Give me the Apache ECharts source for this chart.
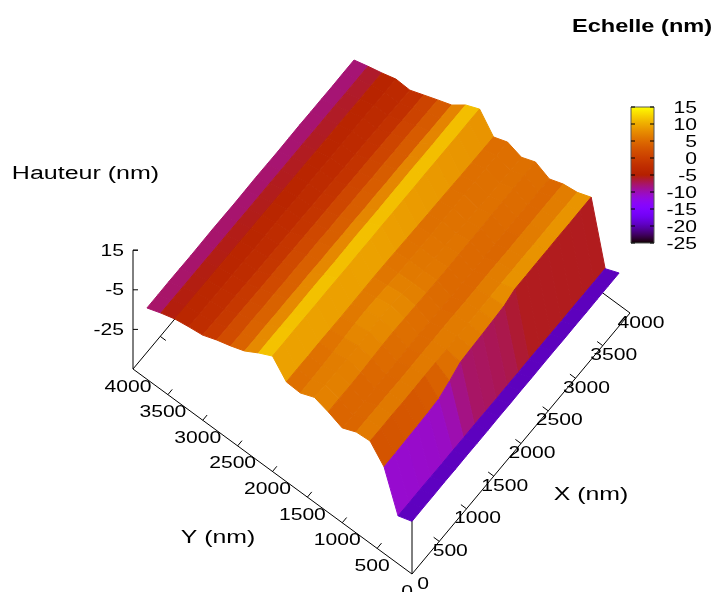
<!DOCTYPE html>
<html>
<head>
<meta charset="utf-8">
<style>html,body{margin:0;padding:0;background:#fff}#c{width:712px;height:592px}</style>
<script src="https://cdn.jsdelivr.net/npm/echarts@6/dist/echarts.min.js"></script>
</head>
<body>
<div id="c"></div>
<script>
// Grid nodes (nm)
const xNodes = [0,200,400,600,800,1000,1200,1400,1600,1800,2000,2200,2400,2600,2800,3000,3200,3400,3600,3800];
const yNodes = [0,200,400,600,800,1000,1200,1400,1600,1800,2000,2200,2400,2600,2800,3000,3200,3400,3600,3800];
// Height (nm) along X for each Y node
const zY0000 = [-18.4,-18.3,-18.3,-18.2,-18.3,-18.2,-18.3,-18.3,-18.2,-18.3,-18.2,-18.3,-18.2,-18.2,-18.3,-18.2,-18.3,-18.2,-18.2,-18.2];
const zY0200 = [-20.8,-20.9,-20.8,-20.9,-21.0,-20.9,-21.0,-20.9,-21.0,-21.1,-21.0,-21.1,-21.0,-21.1,-21.1,-21.2,-21.1,-21.2,-21.2,-21.2];
const zY0400 = [-1.3,-1.2,-1.0,-0.8,-0.5,0.0,2.5,5.5,6.0,6.4,6.9,7.5,9.5,9.5,9.6,9.6,9.7,9.6,9.7,9.7];
const zY0600 = [6.6,6.5,6.6,6.4,6.5,6.6,6.7,6.6,6.8,6.7,6.8,6.9,7.0,6.9,7.0,6.9,7.0,7.1,7.0,7.0];
const zY0800 = [6.0,6.1,5.9,6.0,5.8,5.9,6.0,5.9,6.1,6.0,5.9,6.0,6.1,6.0,5.9,6.0,6.0,6.1,6.0,6.0];
const zY1000 = [2.9,3.0,3.1,3.0,3.2,3.3,3.6,3.8,3.7,3.5,3.4,3.3,3.2,3.3,3.2,3.3,3.4,3.3,3.4,3.4];
const zY1200 = [5.8,5.9,5.8,6.0,6.4,6.8,7.0,6.8,6.6,6.4,6.3,6.2,6.3,6.4,6.3,6.5,6.6,6.7,6.8,6.8];
const zY1400 = [8.0,7.8,7.6,7.4,7.6,8.0,8.4,8.4,7.6,6.6,6.0,5.6,5.4,5.0,4.8,4.6,4.4,4.2,4.1,4.0];
const zY1600 = [5.0,5.2,5.4,5.8,6.4,7.0,7.2,7.0,6.6,6.2,6.0,6.0,6.0,6.2,6.2,6.4,6.4,6.5,6.5,6.5];
const zY1800 = [5.4,5.5,5.4,5.5,5.4,5.3,5.4,5.5,5.6,5.5,5.3,5.1,4.9,4.7,4.6,4.4,4.2,4.1,4.0,3.9];
const zY2000 = [13.3,13.2,13.3,13.2,13.1,13.2,13.1,13.0,13.1,13.0,13.1,13.0,13.0,12.9,13.0,12.9,12.9,12.8,12.9,12.8];
const zY2200 = [9.7,9.8,9.7,9.6,9.7,9.8,9.7,9.6,9.7,9.8,9.7,9.6,9.7,9.7,9.8,9.7,9.6,9.7,9.7,9.7];
const zY2400 = [5.5,5.4,5.5,5.3,5.4,5.2,5.3,5.1,5.2,5.0,5.1,4.9,5.0,4.8,4.9,4.7,4.8,4.6,4.6,4.5];
const zY2600 = [2.9,2.8,2.9,2.7,2.8,2.6,2.7,2.5,2.6,2.4,2.5,2.3,2.4,2.2,2.3,2.1,2.2,2.0,2.0,1.9];
const zY2800 = [0.7,0.6,0.6,0.5,0.4,0.3,0.3,0.2,0.1,0.0,0.0,-0.1,-0.2,-0.3,-0.3,-0.4,-0.5,-0.6,-0.7,-0.8];
const zY3000 = [-2.0,-2.1,-2.2,-2.2,-2.3,-2.4,-2.5,-2.5,-2.6,-2.7,-2.8,-2.8,-2.9,-3.0,-3.0,-3.1,-3.2,-3.3,-3.4,-3.5];
const zY3200 = [-3.0,-3.1,-3.0,-3.1,-3.0,-3.1,-3.2,-3.1,-3.0,-3.1,-3.2,-3.1,-3.0,-3.1,-3.2,-3.1,-3.0,-3.1,-3.1,-3.1];
const zY3400 = [-4.2,-4.3,-4.3,-4.4,-4.4,-4.5,-4.5,-4.6,-4.6,-4.7,-4.7,-4.8,-4.8,-4.9,-4.9,-5.0,-5.0,-5.1,-5.1,-5.2];
const zY3600 = [-6.4,-6.4,-6.5,-6.5,-6.5,-6.6,-6.6,-6.6,-6.7,-6.7,-6.7,-6.8,-6.8,-6.8,-6.9,-6.9,-6.9,-7.0,-7.0,-7.0];
const zY3800 = [-9.0,-9.0,-8.9,-9.0,-9.1,-9.0,-8.9,-9.0,-9.1,-9.0,-8.9,-9.0,-9.1,-9.0,-8.9,-9.0,-9.0,-9.1,-9.0,-9.0];
const zRows = [zY0000,zY0200,zY0400,zY0600,zY0800,zY1000,zY1200,zY1400,zY1600,zY1800,zY2000,zY2200,zY2400,zY2600,zY2800,zY3000,zY3200,zY3400,zY3600,zY3800];

// Ticks and labels
const xyTickValues = [0,500,1000,1500,2000,2500,3000,3500,4000];
const xyTickLabels = ['0','500','1000','1500','2000','2500','3000','3500','4000'];
const zTickValues = [15,-5,-25];
const zTickLabels = ['15','-5','-25'];
const cbTickValues = [15,10,5,0,-5,-10,-15,-20,-25];
const cbTickLabels = ['15','10','5','0','-5','-10','-15','-20','-25'];

// gnuplot view: screen position of the origin and axis vectors
const XYMAX = 4000, ZBASE = -45, ZTOP = 15;
function project(x, y, z) {
  return [
    412 + x * 218 / XYMAX - y * 279 / XYMAX,
    574 - x * 261 / XYMAX - y * 205 / XYMAX - (z - ZBASE) * 1.98
  ];
}
// gnuplot default palette (rgbformulae 7,5,15) on -25..15
function palette(z) {
  const t = Math.max(0, Math.min(1, (z + 25) / 40));
  const r = Math.sqrt(t), g = t * t * t, b = Math.max(0, Math.sin(2 * Math.PI * t));
  return 'rgb(' + Math.round(r * 255) + ',' + Math.round(g * 255) + ',' + Math.round(b * 255) + ')';
}

// Surface cells, far to near
const cells = [];
for (let i = xNodes.length - 2; i >= 0; i--) {
  for (let j = yNodes.length - 2; j >= 0; j--) cells.push([i, j]);
}
function renderCell(params, api) {
  const i = api.value(0), j = api.value(1);
  const corners = [[i, j], [i + 1, j], [i + 1, j + 1], [i, j + 1]];
  const pts = corners.map(c => api.coord(project(xNodes[c[0]], yNodes[c[1]], zRows[c[1]][c[0]])));
  const mean = corners.reduce((s, c) => s + zRows[c[1]][c[0]], 0) / 4;
  const col = palette(mean);
  return { type: 'polygon', shape: { points: pts }, style: { fill: col, stroke: col, lineWidth: 1, lineJoin: 'round' } };
}

// Axis frame: each entry is a pair of 3D points
const T = XYMAX;
const frame = [
  [[0,0,ZBASE],[T,0,ZBASE]], [[0,0,ZBASE],[0,T,ZBASE]],
  [[T,0,ZBASE],[T,T,ZBASE]], [[0,T,ZBASE],[T,T,ZBASE]],
  [[0,T,ZBASE],[0,T,ZTOP]], [[0,0,ZBASE],[0,0,ZTOP]]
];
xyTickValues.slice(1, -1).forEach(v => {
  frame.push([[v,0,ZBASE],[v,0.02*T,ZBASE]]);
  frame.push([[v,T,ZBASE],[v,0.98*T,ZBASE]]);
  frame.push([[0,v,ZBASE],[0.02*T,v,ZBASE]]);
  frame.push([[T,v,ZBASE],[0.98*T,v,ZBASE]]);
});
function renderFrame(params, api) {
  const s = frame[api.value(0)];
  const a = api.coord(project(s[0][0], s[0][1], s[0][2]));
  const b = api.coord(project(s[1][0], s[1][1], s[1][2]));
  return { type: 'line', shape: { x1: a[0], y1: a[1], x2: b[0], y2: b[1] }, style: { stroke: '#000', lineWidth: 1 } };
}
const zTicks = zTickValues.concat([ZTOP]);
function renderZTick(params, api) {
  const a = api.coord(project(0, T, api.value(0)));
  return { type: 'line', shape: { x1: a[0], y1: a[1], x2: a[0] + 5, y2: a[1] }, style: { stroke: '#000', lineWidth: 1 } };
}

// Text: real text, stretched horizontally as in the reference
const TICK_FONT = '16.5px "Liberation Sans"', TITLE_FONT = '18px "Liberation Sans"', TICK_STRETCH = 1.28;
const texts = [];
xyTickValues.forEach((v, k) => {
  const p = project(v, 0, ZBASE), q = project(0, v, ZBASE);
  texts.push({ t: xyTickLabels[k], p: [p[0] + 11, p[1] + 10], a: 'center', f: TICK_FONT, s: TICK_STRETCH });
  texts.push({ t: xyTickLabels[k], p: [q[0] - 5, q[1] + 18], a: 'center', f: TICK_FONT, s: TICK_STRETCH });
});
zTickValues.forEach((v, k) => {
  const p = project(0, T, v);
  texts.push({ t: zTickLabels[k], p: [124, p[1] + 1], a: 'right', f: TICK_FONT, s: TICK_STRETCH });
});
texts.push({ t: 'Hauteur (nm)', p: [85.5, 174], a: 'center', f: TITLE_FONT, s: 1.39 });
texts.push({ t: 'Y (nm)', p: [218, 538], a: 'center', f: TITLE_FONT, s: 1.38 });
texts.push({ t: 'X (nm)', p: [591, 495], a: 'center', f: TITLE_FONT, s: 1.38 });
texts.push({ t: 'Echelle (nm)', p: [642, 27], a: 'center', f: 'bold 18px "Liberation Sans"', s: 1.31 });
function renderText(params, api) {
  const d = texts[api.value(0)];
  const c = api.coord(d.p);
  return { type: 'text', x: c[0], y: c[1], scaleX: d.s, scaleY: 1,
    style: { text: d.t, fill: '#000', font: d.f, align: d.a, verticalAlign: 'middle' } };
}

// Colour bar: one rectangle over the value range with the palette as a gradient
const CB_MIN = -25, CB_MAX = 15;
const rampStops = [];
for (let k = 0; k <= 80; k++) rampStops.push({ offset: k / 80, color: palette(CB_MAX - k * 0.5) });
function renderRamp(params, api) {
  const a = api.coord([0, CB_MIN]), b = api.coord([1, CB_MAX]);
  return { type: 'rect', shape: { x: a[0], y: b[1], width: b[0] - a[0], height: a[1] - b[1] },
    style: { fill: new echarts.graphic.LinearGradient(0, 0, 0, 1, rampStops) } };
}
function renderCbTick(params, api) {
  const a = api.coord([0, api.value(0)]), b = api.coord([1, api.value(0)]);
  return { type: 'group', children: [
    { type: 'line', shape: { x1: a[0], y1: a[1], x2: a[0] + 4, y2: a[1] }, style: { stroke: '#000', lineWidth: 1 } },
    { type: 'line', shape: { x1: b[0] - 4, y1: b[1], x2: b[0], y2: b[1] }, style: { stroke: '#000', lineWidth: 1 } }
  ] };
}
function renderCbLabel(params, api) {
  const k = api.value(0);
  const c = api.coord([1, cbTickValues[k]]);
  return { type: 'text', x: c[0] + 43, y: c[1] + 1, scaleX: TICK_STRETCH, scaleY: 1,
    style: { text: cbTickLabels[k], fill: '#000', font: TICK_FONT, align: 'right', verticalAlign: 'middle' } };
}

const index = a => a.map((_, k) => [k]);
const chart = echarts.init(document.getElementById('c'), null, { renderer: 'canvas' });
chart.setOption({
  animation: false,
  backgroundColor: '#fff',
  grid: [
    { left: 0, top: 0, width: 712, height: 592, show: false },
    { left: 631, top: 107, width: 23, height: 136, show: true, borderColor: '#555', borderWidth: 1, backgroundColor: 'transparent', z: 5 }
  ],
  xAxis: [
    { type: 'value', show: false, min: 0, max: 712, gridIndex: 0 },
    { type: 'value', show: false, min: 0, max: 1, gridIndex: 1 }
  ],
  yAxis: [
    { type: 'value', show: false, min: 0, max: 592, inverse: true, gridIndex: 0 },
    { type: 'value', show: false, gridIndex: 1, min: CB_MIN, max: CB_MAX, interval: 5 }
  ],
  series: [
    { type: 'custom', name: 'frame', xAxisIndex: 0, yAxisIndex: 0, z: 1, silent: true, clip: false, data: index(frame), renderItem: renderFrame },
    { type: 'custom', name: 'zticks', xAxisIndex: 0, yAxisIndex: 0, z: 1, silent: true, clip: false, data: zTicks.map(v => [v]), renderItem: renderZTick },
    { type: 'custom', name: 'surface', xAxisIndex: 0, yAxisIndex: 0, z: 2, silent: true, clip: false, data: cells, renderItem: renderCell },
    { type: 'custom', name: 'text', xAxisIndex: 0, yAxisIndex: 0, z: 3, silent: true, clip: false, data: index(texts), renderItem: renderText },
    { type: 'custom', name: 'colorbar', xAxisIndex: 1, yAxisIndex: 1, z: 2, silent: true, clip: false, data: [[0]], renderItem: renderRamp },
    { type: 'custom', name: 'colorbarTicks', xAxisIndex: 1, yAxisIndex: 1, z: 6, silent: true, clip: false, data: cbTickValues.map(v => [v]), renderItem: renderCbTick },
    { type: 'custom', name: 'colorbarLabels', xAxisIndex: 1, yAxisIndex: 1, z: 3, silent: true, clip: false, data: index(cbTickValues), renderItem: renderCbLabel }
  ]
});
</script>
</body>
</html>
